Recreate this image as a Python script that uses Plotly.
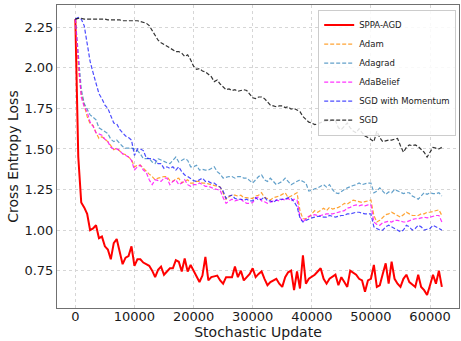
import plotly.graph_objects as go

steps = list(range(0, 62001, 500))

sppa_agd = [
    2.30, 1.45, 1.17, 1.14, 1.10, 1.00, 1.01, 1.03, 0.95, 0.96,
    0.90, 0.88, 0.82, 0.92, 0.945, 0.87, 0.79, 0.83, 0.84, 0.90,
    0.78, 0.82, 0.82, 0.80, 0.79, 0.78, 0.75, 0.71, 0.755, 0.775,
    0.725, 0.745, 0.765, 0.765, 0.815, 0.805, 0.745, 0.825, 0.745, 0.785,
    0.75, 0.715, 0.68, 0.72, 0.835, 0.69, 0.71, 0.715, 0.72, 0.69,
    0.67, 0.71, 0.71, 0.71, 0.775, 0.71, 0.75, 0.69, 0.71, 0.73,
    0.765, 0.71, 0.73, 0.745, 0.70, 0.66, 0.68, 0.69, 0.70, 0.67,
    0.65, 0.71, 0.74, 0.75, 0.63, 0.745, 0.64, 0.845, 0.67, 0.70,
    0.71, 0.725, 0.745, 0.765, 0.70, 0.67, 0.70, 0.71, 0.725, 0.66,
    0.71, 0.68, 0.65, 0.75, 0.735, 0.725, 0.70, 0.69, 0.62, 0.69,
    0.70, 0.785, 0.65, 0.66, 0.73, 0.795, 0.67, 0.805, 0.70, 0.67,
    0.65, 0.70, 0.725, 0.68, 0.665, 0.65, 0.725, 0.65, 0.63, 0.60,
    0.66, 0.725, 0.67, 0.75, 0.65,
]

adam = [
    2.30, 2.00, 1.84, 1.77, 1.70, 1.655, 1.645, 1.60, 1.565, 1.575,
    1.56, 1.545, 1.52, 1.495, 1.505, 1.49, 1.47, 1.465, 1.45, 1.435,
    1.39, 1.40, 1.40, 1.38, 1.36, 1.345, 1.33, 1.31, 1.32, 1.325,
    1.33, 1.33, 1.305, 1.30, 1.315, 1.32, 1.29, 1.30, 1.31, 1.29,
    1.29, 1.30, 1.30, 1.29, 1.29, 1.285, 1.28, 1.275, 1.27, 1.265,
    1.23, 1.19, 1.205, 1.215, 1.215, 1.21, 1.215, 1.20, 1.20, 1.195,
    1.195, 1.21, 1.215, 1.23, 1.20, 1.195, 1.185, 1.20, 1.205, 1.21,
    1.22, 1.23, 1.20, 1.21, 1.22, 1.23, 1.12, 1.07, 1.07, 1.08,
    1.10, 1.12, 1.11, 1.125, 1.135, 1.12, 1.14, 1.13, 1.135, 1.14,
    1.15, 1.165, 1.16, 1.175, 1.185, 1.18, 1.175, 1.17, 1.175, 1.18,
    1.185, 1.09, 1.05, 1.06, 1.08, 1.095, 1.10, 1.11, 1.10, 1.09,
    1.08, 1.095, 1.11, 1.10, 1.09, 1.09, 1.09, 1.10, 1.10, 1.11,
    1.11, 1.115, 1.12, 1.125, 1.09,
]

adagrad = [
    2.30, 2.06, 1.87, 1.78, 1.74, 1.71, 1.695, 1.68, 1.63, 1.62,
    1.61, 1.595, 1.56, 1.545, 1.555, 1.535, 1.515, 1.505, 1.505, 1.505,
    1.50, 1.49, 1.47, 1.44, 1.44, 1.44, 1.42, 1.41, 1.44, 1.43,
    1.42, 1.415, 1.41, 1.43, 1.45, 1.42, 1.43, 1.44, 1.43, 1.39,
    1.39, 1.40, 1.37, 1.375, 1.37, 1.37, 1.38, 1.39, 1.36, 1.345,
    1.32, 1.325, 1.33, 1.33, 1.32, 1.33, 1.33, 1.32, 1.32, 1.305,
    1.29, 1.31, 1.33, 1.34, 1.31, 1.30, 1.32, 1.30, 1.28, 1.29,
    1.30, 1.32, 1.30, 1.28, 1.29, 1.30, 1.31, 1.30, 1.29, 1.24,
    1.245, 1.255, 1.26, 1.27, 1.28, 1.265, 1.28, 1.25, 1.23, 1.225,
    1.24, 1.25, 1.26, 1.27, 1.275, 1.28, 1.29, 1.28, 1.285, 1.29,
    1.29, 1.23, 1.24, 1.26, 1.24, 1.22, 1.235, 1.23, 1.25, 1.24,
    1.23, 1.225, 1.23, 1.23, 1.21, 1.20, 1.19, 1.21, 1.23, 1.22,
    1.23, 1.225, 1.225, 1.23, 1.21,
]

adabelief = [
    2.30, 2.04, 1.82, 1.76, 1.73, 1.665, 1.64, 1.60, 1.59, 1.585,
    1.56, 1.545, 1.51, 1.50, 1.50, 1.49, 1.47, 1.46, 1.45, 1.43,
    1.37, 1.39, 1.40, 1.37, 1.355, 1.31, 1.28, 1.31, 1.305, 1.30,
    1.32, 1.32, 1.28, 1.30, 1.31, 1.28, 1.29, 1.31, 1.28, 1.27,
    1.28, 1.28, 1.29, 1.28, 1.27, 1.27, 1.26, 1.255, 1.25, 1.245,
    1.20, 1.165, 1.18, 1.19, 1.18, 1.185, 1.19, 1.175, 1.165, 1.165,
    1.17, 1.195, 1.205, 1.18, 1.175, 1.165, 1.175, 1.18, 1.185, 1.18,
    1.19, 1.185, 1.195, 1.18, 1.19, 1.185, 1.08, 1.05, 1.07, 1.085,
    1.09, 1.095, 1.09, 1.09, 1.095, 1.10, 1.10, 1.10, 1.105, 1.11,
    1.115, 1.12, 1.135, 1.14, 1.15, 1.155, 1.15, 1.155, 1.15, 1.155,
    1.155, 1.05, 1.035, 1.03, 1.045, 1.05, 1.055, 1.05, 1.06, 1.06,
    1.055, 1.05, 1.05, 1.06, 1.065, 1.07, 1.07, 1.075, 1.08, 1.075,
    1.08, 1.085, 1.09, 1.09, 1.05,
]

sgd_momentum = [
    2.30, 2.31, 2.30, 2.26, 2.15, 2.04, 1.97, 1.90, 1.84, 1.81,
    1.77, 1.75, 1.70, 1.66, 1.655, 1.62, 1.60, 1.58, 1.57, 1.555,
    1.46, 1.50, 1.50, 1.49, 1.445, 1.44, 1.44, 1.43, 1.41, 1.41,
    1.38, 1.39, 1.38, 1.39, 1.37, 1.39, 1.36, 1.34, 1.33, 1.315,
    1.305, 1.30, 1.31, 1.32, 1.30, 1.30, 1.29, 1.29, 1.275, 1.265,
    1.24, 1.195, 1.21, 1.215, 1.195, 1.19, 1.19, 1.185, 1.19, 1.18,
    1.18, 1.20, 1.185, 1.19, 1.205, 1.18, 1.18, 1.17, 1.185, 1.19,
    1.19, 1.19, 1.20, 1.195, 1.175, 1.145, 1.075, 1.05, 1.06, 1.07,
    1.075, 1.08, 1.085, 1.085, 1.08, 1.08, 1.09, 1.085, 1.08, 1.085,
    1.09, 1.09, 1.10, 1.10, 1.105, 1.11, 1.11, 1.105, 1.10, 1.10,
    1.10, 1.02, 1.01, 1.00, 1.00, 1.02, 1.03, 1.02, 1.01, 1.005,
    0.99, 1.00, 1.03, 1.02, 1.00, 1.01, 1.03, 1.02, 1.00, 1.005,
    1.01, 1.03, 1.02, 1.01, 1.00,
]

sgd = [
    2.30, 2.305, 2.305, 2.30, 2.30, 2.30, 2.30, 2.30, 2.30, 2.30,
    2.30, 2.295, 2.295, 2.295, 2.295, 2.295, 2.29, 2.29, 2.29, 2.29,
    2.29, 2.29, 2.285, 2.28, 2.275, 2.26, 2.23, 2.20, 2.17, 2.155,
    2.145, 2.13, 2.12, 2.11, 2.10, 2.10, 2.09, 2.07, 2.08, 2.05,
    2.01, 1.99, 1.995, 1.98, 1.975, 1.96, 1.945, 1.915, 1.925, 1.90,
    1.88, 1.865, 1.87, 1.86, 1.865, 1.855, 1.86, 1.865, 1.86, 1.84,
    1.815, 1.81, 1.82, 1.82, 1.81, 1.79, 1.77, 1.765, 1.76, 1.765,
    1.765, 1.755, 1.76, 1.745, 1.75, 1.74, 1.73, 1.70, 1.685, 1.665,
    1.66, 1.65, 1.655, 1.665, 1.67, 1.675, 1.67, 1.68, 1.675, 1.63,
    1.62, 1.64, 1.66, 1.63, 1.61, 1.60, 1.625, 1.60, 1.58, 1.57,
    1.555, 1.545, 1.61, 1.57, 1.545, 1.55, 1.555, 1.555, 1.56, 1.565,
    1.52, 1.48, 1.51, 1.525, 1.52, 1.525, 1.515, 1.50, 1.48, 1.45,
    1.48, 1.51, 1.505, 1.50, 1.51,
]

x_ticks = [0, 10000, 20000, 30000, 40000, 50000, 60000]
x_ticktext = ["0", "10000", "20000", "30000", "40000", "50000", "60000"]
y_ticks = [0.75, 1.00, 1.25, 1.50, 1.75, 2.00, 2.25]
y_ticktext = ["0.75", "1.00", "1.25", "1.50", "1.75", "2.00", "2.25"]

series = [
    ("SPPA-AGD", sppa_agd, "#ff0000", 2.0, "solid"),
    ("Adam", adam, "rgba(255,140,0,0.8)", 1.2, "4px,2px"),
    ("Adagrad", adagrad, "rgba(31,119,180,0.7)", 1.2, "4px,2px"),
    ("AdaBelief", adabelief, "rgba(255,0,255,0.8)", 1.2, "4px,2px"),
    ("SGD with Momentum", sgd_momentum, "rgba(0,0,255,0.7)", 1.2, "4px,2px"),
    ("SGD", sgd, "rgba(0,0,0,0.8)", 1.2, "4px,2px"),
]

fig = go.Figure()
for name, vals, color, width, dash in series:
    fig.add_trace(go.Scatter(
        x=steps, y=vals, mode="lines", name=name,
        line=dict(color=color, width=width, dash=dash),
    ))

font_family = "DejaVu Sans"
axis_common = dict(
    showgrid=True, gridcolor="#d6d6d6", griddash="dot", gridwidth=1,
    showline=True, mirror=True, linecolor="#707070", linewidth=1,
    ticks="",
    tickfont=dict(family=font_family, size=13, color="#1a1a1a"),
    zeroline=False, automargin=False,
)

fig.update_layout(
    width=461, height=341,
    margin=dict(l=57, r=2, t=5, b=33),
    paper_bgcolor="white", plot_bgcolor="white",
    font=dict(family=font_family, color="#1a1a1a"),
    xaxis=dict(range=[-3100, 64900], tickvals=x_ticks, ticktext=x_ticktext,
               ticklabelstandoff=-4,
               title=dict(text="Stochastic Update", font=dict(size=14), standoff=0),
               **axis_common),
    yaxis=dict(range=[0.52, 2.387], tickvals=y_ticks, ticktext=y_ticktext,
               title=dict(text="Cross Entropy Loss", font=dict(size=14), standoff=2),
               **axis_common),
    legend=dict(x=0.993, xanchor="right", y=0.985, yanchor="top",
                bgcolor="rgba(255,255,255,0.85)", bordercolor="#cccccc", borderwidth=1,
                font=dict(family=font_family, size=8.5, color="#1a1a1a"),
                itemwidth=30, tracegroupgap=0),
    showlegend=True,
)

fig.write_html(
    "out.html",
    config={"displayModeBar": False},
    post_script="document.body.style.margin='0px';document.body.style.overflow='hidden';",
)
